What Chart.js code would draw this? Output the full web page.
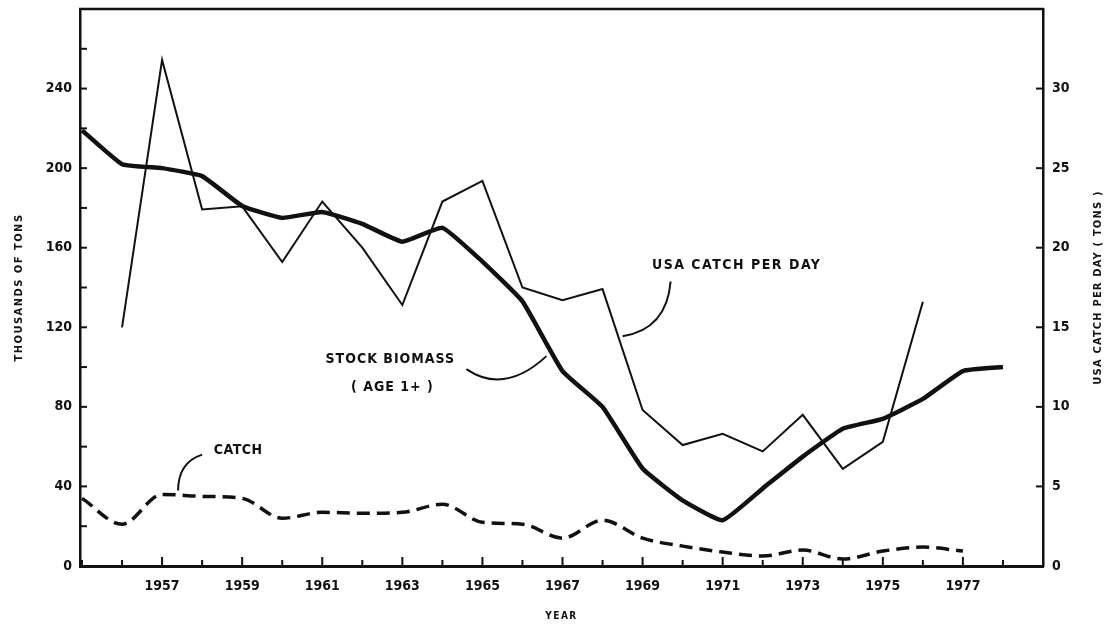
<!DOCTYPE html>
<html>
<head>
<meta charset="utf-8">
<script src="https://cdn.jsdelivr.net/npm/chart.js@4.4.1/dist/chart.umd.min.js"></script>
<style>
  html, body { margin: 0; padding: 0; background: #fff; }
  #wrap { width: 1110px; height: 628px; }
</style>
</head>
<body>
<div id="wrap"><canvas id="chart"></canvas></div>
<script>
// Values
const stockYears = [1955, 1956, 1957, 1958, 1959, 1960, 1961, 1962, 1963, 1964, 1965, 1966,
                    1967, 1968, 1969, 1970, 1971, 1972, 1973, 1974, 1975, 1976, 1977, 1978];
const stockBiomass = [219, 202, 200, 196, 181, 175, 178, 172, 163, 170, 153, 133,
                      98, 80, 49, 33, 23, 39, 55, 69, 74, 84, 98, 100];

const usaYears = [1956, 1957, 1958, 1959, 1960, 1961, 1962, 1963, 1964, 1965, 1966,
                  1967, 1968, 1969, 1970, 1971, 1972, 1973, 1974, 1975, 1976];
const usaCatchPerDay = [15.0, 31.8, 22.4, 22.6, 19.1, 22.9, 20.0, 16.4, 22.9, 24.2, 17.5,
                        16.7, 17.4, 9.8, 7.6, 8.3, 7.2, 9.5, 6.1, 7.8, 16.6];

const catchYears = [1955, 1956, 1957, 1958, 1959, 1960, 1961, 1962, 1963, 1964, 1965, 1966,
                    1967, 1968, 1969, 1970, 1971, 1972, 1973, 1974, 1975, 1976, 1977];
const catchTons = [34, 21, 36, 35, 34, 24, 27, 26.5, 27, 31, 22, 21,
                   14, 23, 14, 10, 7, 5, 8, 3.5, 7.5, 9.5, 7.5];

// Axis ticks and labels
const xTickYears = [1955, 1956, 1957, 1958, 1959, 1960, 1961, 1962, 1963, 1964, 1965, 1966, 1967,
                    1968, 1969, 1970, 1971, 1972, 1973, 1974, 1975, 1976, 1977, 1978];
const xLabelYears = [1957, 1959, 1961, 1963, 1965, 1967, 1969, 1971, 1973, 1975, 1977];
const leftTicks = [0, 20, 40, 60, 80, 100, 120, 140, 160, 180, 200, 220, 240, 260];
const leftLabels = [0, 40, 80, 120, 160, 200, 240];
const rightTicks = [0, 5, 10, 15, 20, 25, 30];

const ink = '#111';
const font = "'DejaVu Sans Condensed', 'Liberation Sans Narrow', 'DejaVu Sans', sans-serif";

const toPoints = (xs, ys) => xs.map((x, i) => ({ x: x, y: ys[i] }));

const drawText = (ctx, text, x, y, size, spacing) => {
    ctx.font = 'bold ' + size + 'px ' + font;
    ctx.letterSpacing = spacing + 'px';
    ctx.fillText(text, x, y);
};

// no label overhang padding, so the plot box sits where the figure has it
const noPad = s => { s.paddingTop = 0; s.paddingBottom = 0; s.paddingLeft = 0; s.paddingRight = 0; };

// Frame, inward tick marks, axis titles and the hand-drawn labels
const decorations = {
    id: 'decorations',
    afterDraw(chart) {
        const { ctx, chartArea: a, scales: { x, y, y1 } } = chart;
        const px = v => x.getPixelForValue(v);
        const py = v => y.getPixelForValue(v);
        const seg = (x0, y0, x1, y2) => { ctx.beginPath(); ctx.moveTo(x0, y0); ctx.lineTo(x1, y2); ctx.stroke(); };

        ctx.save();
        ctx.strokeStyle = ink;
        ctx.fillStyle = ink;
        ctx.lineCap = 'butt';

        ctx.lineWidth = 2.5;
        seg(a.left - 1, a.top, a.right + 1, a.top);

        ctx.lineWidth = 2;
        xTickYears.forEach(v => {
            const len = xLabelYears.includes(v) ? 9 : 6;
            seg(px(v), a.bottom, px(v), a.bottom - len);
        });
        leftTicks.forEach(v => seg(a.left, py(v), a.left + 7, py(v)));
        rightTicks.forEach(v => seg(a.right, y1.getPixelForValue(v), a.right - 7, y1.getPixelForValue(v)));

        ctx.textAlign = 'center';
        ctx.textBaseline = 'middle';

        // axis titles
        drawText(ctx, 'YEAR', (a.left + a.right) / 2, 616, 10, 1.5);
        ctx.save();
        ctx.translate(19, (a.top + a.bottom) / 2);
        ctx.rotate(-Math.PI / 2);
        drawText(ctx, 'THOUSANDS OF TONS', 0, 0, 11, 1.5);
        ctx.restore();
        ctx.save();
        ctx.translate(1098, (a.top + a.bottom) / 2);
        ctx.rotate(-Math.PI / 2);
        drawText(ctx, 'USA CATCH PER DAY ( TONS )', 0, 0, 11, 1.2);
        ctx.restore();

        // series labels
        drawText(ctx, 'USA CATCH PER DAY', px(1971.35), py(151), 14, 1.5);
        drawText(ctx, 'STOCK BIOMASS', px(1962.7), py(104), 14, 1);
        drawText(ctx, '( AGE 1+ )', px(1962.75), py(90), 14, 1);
        drawText(ctx, 'CATCH', px(1958.9), py(58), 14, 0.5);

        // leader curves
        ctx.lineWidth = 2;
        const curve = (p0, c, p1) => {
            ctx.beginPath();
            ctx.moveTo(px(p0[0]), py(p0[1]));
            ctx.quadraticCurveTo(px(c[0]), py(c[1]), px(p1[0]), py(p1[1]));
            ctx.stroke();
        };
        curve([1969.7, 143], [1969.6, 119], [1968.5, 115.5]);
        curve([1964.6, 99], [1965.55, 86], [1966.6, 105.5]);
        curve([1958.0, 56], [1957.4, 52], [1957.4, 38]);

        ctx.restore();
    }
};

new Chart(document.getElementById('chart'), {
    type: 'line',
    data: {
        datasets: [
            {
                label: 'Stock biomass (age 1+)',
                data: toPoints(stockYears, stockBiomass),
                borderColor: ink,
                borderWidth: 4.5,
                tension: 0.12,
                pointRadius: 0,
                yAxisID: 'y'
            },
            {
                label: 'USA catch per day',
                data: toPoints(usaYears, usaCatchPerDay),
                borderColor: ink,
                borderWidth: 2,
                tension: 0,
                pointRadius: 0,
                yAxisID: 'y1'
            },
            {
                label: 'Catch',
                data: toPoints(catchYears, catchTons),
                borderColor: ink,
                borderWidth: 3.5,
                borderDash: [13, 7],
                cubicInterpolationMode: 'monotone',
                pointRadius: 0,
                yAxisID: 'y'
            }
        ]
    },
    options: {
        responsive: true,
        maintainAspectRatio: false,
        animation: false,
        layout: { padding: { top: 9, left: 0, right: 0, bottom: 0 } },
        plugins: {
            legend: { display: false },
            tooltip: { enabled: false }
        },
        scales: {
            x: {
                type: 'linear',
                min: 1954.95,
                max: 1979,
                grid: { display: true, drawOnChartArea: false, drawTicks: false },
                border: { display: true, color: ink, width: 3 },
                afterBuildTicks: s => { s.ticks = xTickYears.map(v => ({ value: v })); },
                afterFit: s => { s.height = 62; noPad(s); },
                ticks: {
                    autoSkip: false,
                    maxRotation: 0,
                    padding: 12,
                    color: ink,
                    font: { family: font, size: 14, weight: 'bold' },
                    callback: v => xLabelYears.includes(v) ? String(v) : ''
                }
            },
            y: {
                position: 'left',
                min: 0,
                max: 280,
                grid: { display: true, drawOnChartArea: false, drawTicks: false },
                border: { display: true, color: ink, width: 2.5 },
                afterBuildTicks: s => { s.ticks = leftTicks.map(v => ({ value: v })); },
                afterFit: s => { s.width = 80; noPad(s); },
                ticks: {
                    padding: 8,
                    color: ink,
                    font: { family: font, size: 14, weight: 'bold' },
                    callback: v => leftLabels.includes(v) ? String(v) : ''
                }
            },
            y1: {
                position: 'right',
                min: 0,
                max: 35,
                grid: { display: true, drawOnChartArea: false, drawTicks: false },
                border: { display: true, color: ink, width: 2.5 },
                afterBuildTicks: s => { s.ticks = rightTicks.map(v => ({ value: v })); },
                afterFit: s => { s.width = 67; noPad(s); },
                ticks: {
                    padding: 9,
                    color: ink,
                    font: { family: font, size: 14, weight: 'bold' },
                    callback: v => String(v)
                }
            }
        }
    },
    plugins: [decorations]
});
</script>
</body>
</html>
